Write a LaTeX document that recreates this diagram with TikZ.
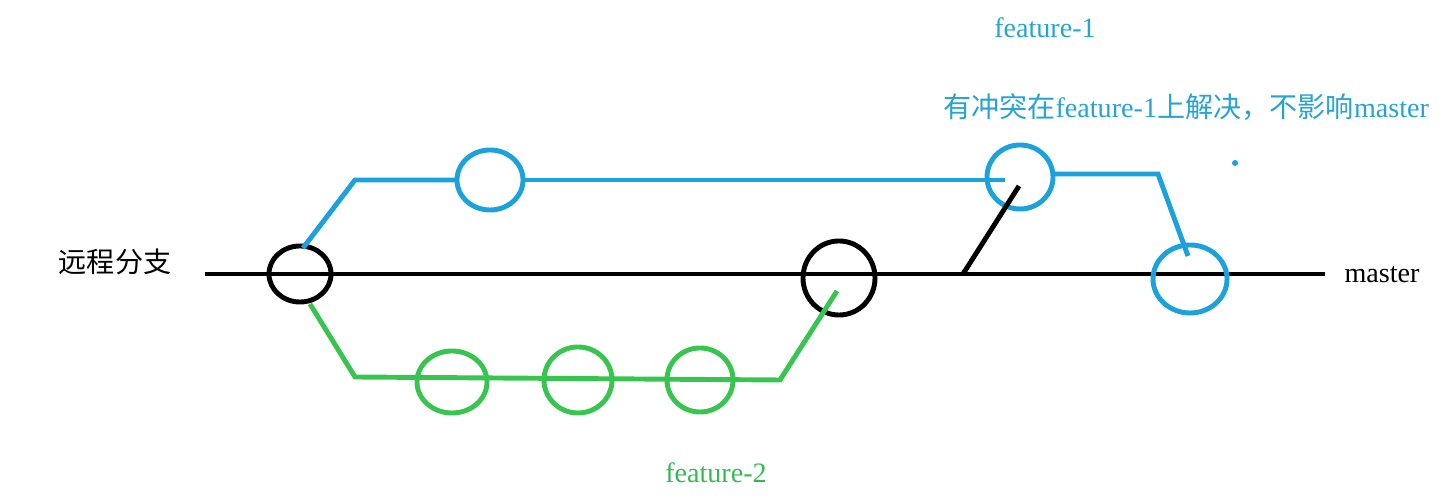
\documentclass[tikz,border=0pt]{standalone}
\usepackage{fontspec}
\setmainfont{Liberation Serif}
\newfontfamily\cjk{Noto Sans CJK SC}
\usetikzlibrary{shapes.geometric}
\definecolor{fblue}{RGB}{27,161,219}
\definecolor{fgreen}{RGB}{55,197,80}
\definecolor{tblue}{RGB}{38,163,214}
\definecolor{tgreen}{RGB}{52,186,82}
\begin{document}
\begin{tikzpicture}[x=0.01cm,y=-0.01cm,
  commit/.style={ellipse, draw, line width=1.4pt, inner sep=0pt, outer sep=0pt},
  branch/.style={line width=1.4pt, line join=miter},
  lbl/.style={font=\fontsize{8}{9.6}\selectfont, inner sep=0pt, anchor=center}]
\useasboundingbox (0,0) rectangle (1452,498);
% master line
\coordinate (mL) at (205,274);
\coordinate (mR) at (1325,274);
\draw[branch] (mL) -- (mR);
% commits
\node[commit, minimum width=0.62cm, minimum height=0.56cm] (c0) at (300,274) {};
\node[commit, minimum width=0.72cm, minimum height=0.74cm] (c1) at (839,278) {};
\node[commit, draw=fblue, minimum width=0.66cm, minimum height=0.60cm] (b1) at (490,180) {};
\node[commit, draw=fblue, minimum width=0.66cm, minimum height=0.64cm] (b2) at (1020,177) {};
\node[commit, draw=fblue, minimum width=0.74cm, minimum height=0.68cm] (b3) at (1190,279) {};
\node[commit, draw=fgreen, minimum width=0.70cm, minimum height=0.62cm] (g1) at (452,382) {};
\node[commit, draw=fgreen, minimum width=0.68cm, minimum height=0.66cm] (g2) at (578,380) {};
\node[commit, draw=fgreen, minimum width=0.66cm, minimum height=0.64cm] (g3) at (700,380) {};
% feature-1 branch
\coordinate (bS) at (303,248);
\coordinate (bA) at (355,180);
\coordinate (bIn) at (1005,180);
\coordinate (bB) at (1158,174);
\coordinate (bEnd) at (1188,256);
\draw[branch, fblue] (bS) -- (bA) -- (b1.west);
\draw[branch, fblue] (b1.east) -- (bIn);
\draw[branch, fblue] (b2.east |- bB) -- (bB) -- (bEnd);
% merge of master into feature-1
\coordinate (mM) at (963,274);
\coordinate (mEnd) at (1019,186);
\draw[branch] (mM) -- (mEnd);
% feature-2 branch
\coordinate (gS) at (310,304);
\coordinate (gA) at (355,377);
\coordinate (gB) at (780,380);
\coordinate (gEnd) at (837,291);
\draw[branch, fgreen] (gS) -- (gA) -- (gB) -- (gEnd);
% small dot
\fill[fblue] (1235,163) circle (0.03cm);
% labels
\node[lbl, text=tblue] (t1) at (1045,28) {feature-1};
\node[lbl, text=tblue] (t2) at (1186,107) {{\cjk 有冲突在}feature-1{\cjk 上解决，不影响}master};
\node[lbl] (t3) at (115,262) {\cjk 远程分支};
\node[lbl] (t4) at (1382,275) {master};
\node[lbl, text=tgreen] (t5) at (716,473) {feature-2};
\end{tikzpicture}
\end{document}
